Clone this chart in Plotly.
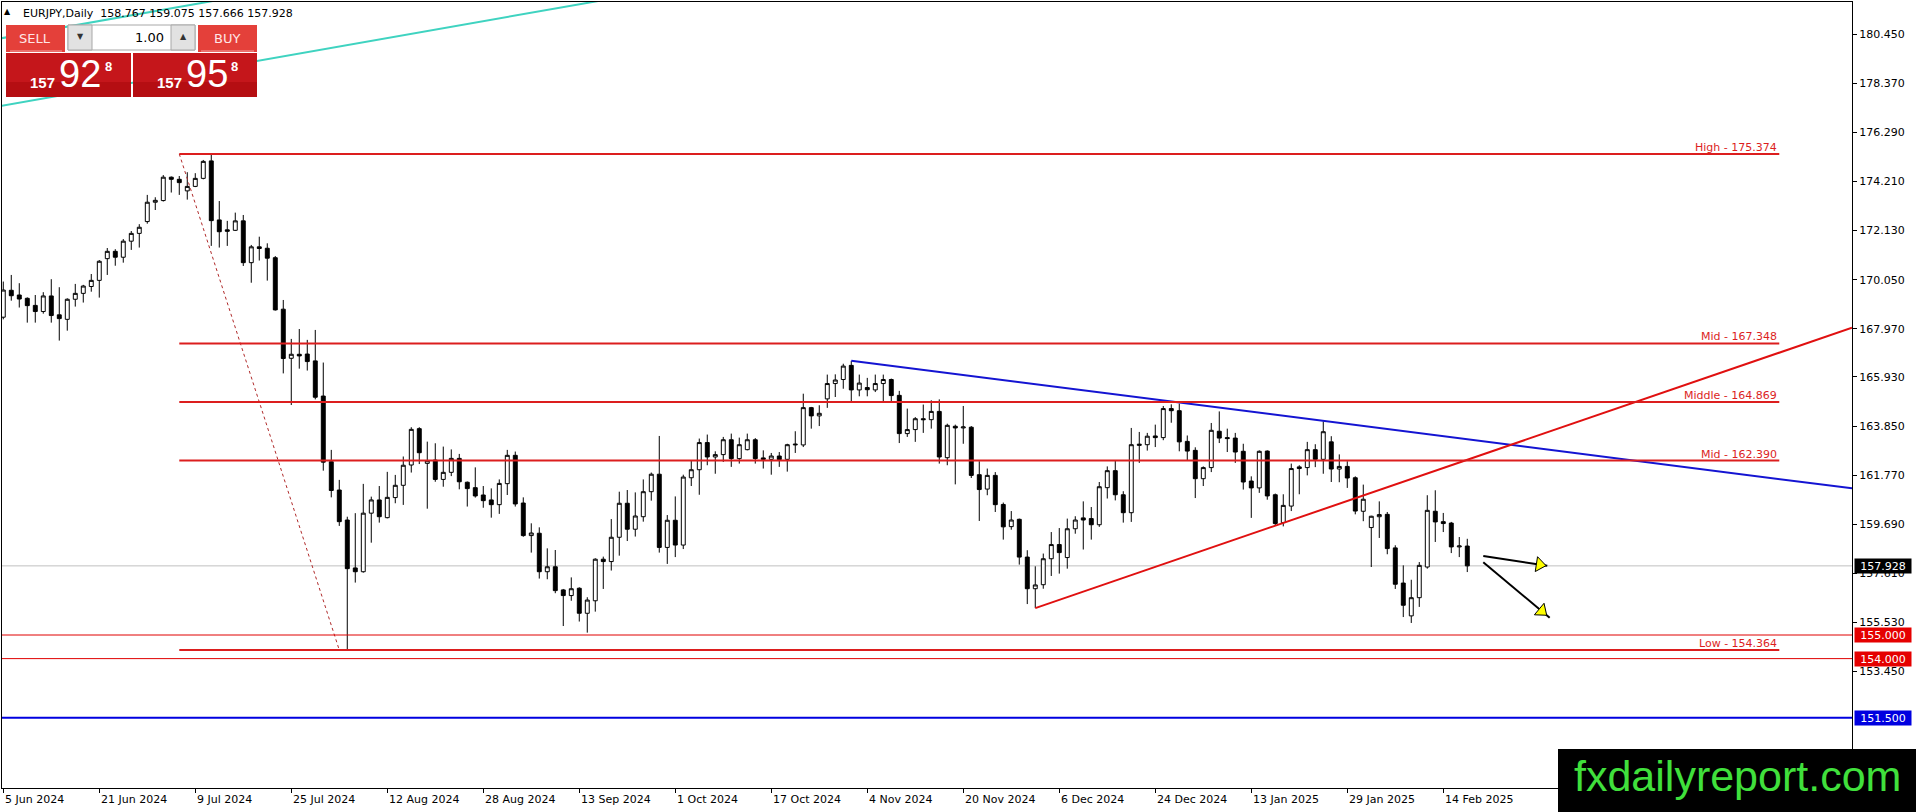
import math
import plotly.graph_objects as go

# EURJPY daily, 5 Jun 2024 .. 19 Feb 2025 (broker has no bars on 25 Dec and 1 Jan)
opens = [168.46, 169.60, 169.40, 169.26, 168.96, 168.70, 169.36, 168.56, 168.37, 169.22,
         169.47, 169.76, 170.02, 170.94, 171.25, 171.00, 171.68, 172.01, 172.51, 173.33,
         173.40, 174.39, 174.30, 173.81, 174.00, 174.34, 175.08, 172.58, 172.16, 172.14,
         172.54, 170.77, 171.44, 171.38, 170.98, 168.80, 166.72, 166.89, 166.90, 166.61,
         165.12, 162.34, 161.14, 159.87, 157.84, 157.68, 160.16, 160.72, 159.97, 160.82,
         161.34, 162.20, 163.74, 162.27, 162.41, 161.59, 161.89, 162.48, 161.47, 161.24,
         160.93, 160.72, 160.52, 161.41, 162.61, 160.59, 159.21, 159.31, 157.68, 157.89,
         156.91, 156.67, 156.98, 155.92, 156.45, 158.21, 158.11, 159.14, 160.58, 159.48,
         160.01, 161.07, 161.81, 158.71, 159.86, 158.81, 161.66, 162.00, 163.15, 162.54,
         162.64, 163.27, 162.47, 162.85, 163.27, 162.50, 162.44, 162.58, 162.44, 163.05,
         163.05, 164.63, 164.28, 165.00, 165.65, 165.82, 166.42, 165.38, 165.48, 165.38,
         165.65, 165.82, 165.15, 163.53, 163.70, 164.16, 164.12, 164.47, 162.51, 163.84,
         163.77, 163.80, 161.79, 161.18, 161.76, 160.53, 159.59, 159.90, 158.30, 156.96,
         157.13, 158.23, 158.83, 158.28, 159.50, 159.96, 159.93, 159.67, 161.24, 161.96,
         160.94, 160.18, 163.03, 163.06, 163.43, 163.36, 164.59, 164.50, 163.20, 162.82,
         161.62, 162.09, 163.63, 163.36, 163.34, 162.78, 161.52, 161.23, 162.79, 160.94,
         159.76, 160.46, 162.12, 162.09, 162.85, 162.44, 163.18, 162.03, 162.14, 161.66,
         160.24, 159.55, 160.01, 160.11, 158.69, 157.20, 155.81, 156.58, 157.88, 160.24,
         159.80, 159.74, 158.73, 158.767]
highs = [169.97, 170.25, 169.90, 169.30, 169.40, 169.52, 170.07, 169.73, 169.26, 169.87,
         169.83, 170.29, 170.88, 171.39, 171.34, 171.77, 172.11, 172.40, 173.64, 173.54,
         174.48, 174.42, 174.44, 174.60, 174.56, 175.12, 175.37, 173.38, 172.54, 172.89,
         172.79, 171.52, 171.87, 171.59, 171.05, 169.19, 167.54, 167.96, 167.50, 167.92,
         166.54, 162.84, 161.57, 160.01, 160.16, 161.40, 160.86, 161.31, 161.91, 161.78,
         162.56, 163.80, 163.80, 163.19, 163.12, 162.98, 162.86, 162.67, 161.50, 162.10,
         161.31, 161.21, 161.59, 162.84, 162.77, 160.83, 159.73, 159.56, 158.67, 158.60,
         156.95, 157.44, 157.02, 156.60, 158.25, 158.32, 159.91, 161.07, 161.14, 161.04,
         161.59, 161.88, 163.43, 160.08, 160.87, 161.79, 162.37, 163.32, 163.49, 162.78,
         163.39, 163.53, 163.36, 163.53, 163.34, 162.82, 162.71, 162.75, 163.10, 163.63,
         165.22, 164.66, 164.73, 166.03, 166.04, 166.49, 166.61, 166.03, 165.89, 166.03,
         166.03, 165.86, 165.34, 164.59, 164.23, 164.76, 164.94, 164.98, 163.95, 163.91,
         164.70, 163.85, 162.36, 162.05, 161.90, 160.61, 160.25, 159.93, 158.59, 157.91,
         158.45, 159.36, 159.53, 159.93, 160.03, 160.66, 160.42, 161.48, 162.14, 162.40,
         161.09, 163.77, 163.60, 163.56, 163.91, 164.70, 164.77, 164.80, 163.45, 162.95,
         162.14, 163.98, 164.47, 163.74, 163.56, 163.10, 161.72, 162.82, 162.82, 160.99,
         160.96, 162.26, 162.19, 163.18, 163.08, 164.05, 163.42, 162.65, 162.36, 161.72,
         161.37, 160.05, 160.66, 160.21, 158.80, 157.95, 157.34, 158.09, 160.92, 161.13,
         160.17, 159.79, 159.15, 159.075]
lows = [168.37, 169.16, 168.87, 168.23, 168.23, 168.61, 168.23, 167.47, 167.89, 168.91,
        169.08, 169.54, 169.29, 170.25, 170.64, 170.77, 171.31, 171.41, 172.42, 173.00,
        173.36, 173.74, 173.64, 173.44, 173.97, 174.30, 171.48, 171.41, 171.48, 172.11,
        170.63, 169.92, 170.86, 170.01, 168.74, 166.08, 164.74, 166.28, 166.20, 164.98,
        161.96, 160.83, 159.62, 154.37, 157.22, 157.64, 158.91, 159.76, 159.94, 160.58,
        160.51, 161.88, 162.24, 160.35, 161.49, 161.28, 161.73, 161.17, 160.44, 160.82,
        160.39, 159.97, 160.13, 160.93, 160.44, 159.16, 158.49, 157.39, 157.36, 156.77,
        155.38, 156.45, 155.57, 155.10, 155.99, 156.95, 157.73, 158.36, 158.98, 159.17,
        159.80, 160.69, 158.49, 158.01, 158.30, 158.64, 161.31, 160.94, 162.19, 161.83,
        162.33, 162.12, 162.26, 162.82, 162.26, 162.05, 161.79, 162.12, 161.92, 162.71,
        162.96, 163.74, 163.85, 164.62, 165.08, 165.43, 164.90, 165.11, 165.11, 165.29,
        164.90, 164.90, 163.13, 163.39, 163.18, 163.56, 163.74, 162.26, 162.19, 161.38,
        163.10, 161.65, 159.83, 160.92, 160.21, 159.04, 159.46, 157.98, 156.31, 156.14,
        156.96, 157.50, 157.60, 157.81, 159.29, 158.62, 159.04, 159.58, 160.78, 160.70,
        159.76, 159.79, 162.29, 162.81, 162.96, 163.25, 163.99, 162.78, 162.40, 160.80,
        161.31, 161.90, 163.13, 162.75, 162.29, 161.16, 159.96, 161.02, 160.73, 159.65,
        159.60, 160.25, 160.96, 161.76, 162.11, 161.83, 161.48, 161.47, 161.23, 160.11,
        159.82, 157.88, 159.11, 158.42, 156.95, 155.76, 155.51, 156.19, 157.81, 158.94,
        159.36, 158.47, 158.30, 157.666]
closes = [169.61, 169.37, 169.23, 168.95, 168.70, 169.36, 168.53, 168.40, 169.22, 169.47,
          169.78, 170.02, 170.83, 171.25, 171.00, 171.68, 172.01, 172.27, 173.33, 173.41,
          174.39, 174.30, 174.16, 174.00, 174.34, 175.06, 172.55, 172.08, 172.10, 172.54,
          170.77, 171.44, 171.37, 170.96, 168.77, 166.71, 166.89, 166.82, 166.58, 165.07,
          162.32, 161.12, 159.80, 157.81, 157.68, 160.16, 160.72, 160.01, 160.83, 161.34,
          162.19, 163.71, 162.72, 162.38, 161.59, 161.89, 162.48, 161.49, 161.20, 160.89,
          160.69, 160.52, 161.42, 162.61, 160.55, 159.21, 159.32, 157.68, 157.89, 156.88,
          156.67, 156.96, 155.92, 156.48, 158.21, 158.11, 159.14, 160.58, 159.48, 160.04,
          161.07, 161.81, 158.71, 159.86, 158.81, 161.69, 162.00, 163.15, 162.54, 162.64,
          163.27, 162.47, 163.06, 163.27, 162.47, 162.44, 162.58, 162.43, 163.06, 163.08,
          164.63, 164.28, 164.39, 165.65, 165.80, 166.39, 165.38, 165.67, 165.39, 165.65,
          165.82, 165.14, 163.53, 163.70, 164.16, 164.12, 164.47, 162.54, 163.88, 163.77,
          163.81, 161.76, 161.16, 161.76, 160.52, 159.58, 159.87, 158.30, 156.96, 157.12,
          158.23, 158.83, 158.49, 159.50, 159.87, 159.87, 159.67, 161.28, 161.96, 160.94,
          160.18, 163.06, 163.08, 163.42, 163.36, 164.59, 164.50, 163.18, 162.79, 161.62,
          162.09, 163.67, 163.34, 163.32, 162.75, 161.48, 161.23, 162.78, 160.89, 159.72,
          160.49, 162.05, 162.05, 162.85, 162.44, 163.61, 162.03, 162.14, 161.65, 160.25,
          160.75, 160.03, 160.10, 158.66, 157.15, 156.26, 156.58, 157.95, 160.28, 159.79,
          159.72, 158.73, 158.77, 157.928]

bars = list(range(len(closes)))

date_labels = ["5 Jun 2024", "21 Jun 2024", "9 Jul 2024", "25 Jul 2024", "12 Aug 2024",
               "28 Aug 2024", "13 Sep 2024", "1 Oct 2024", "17 Oct 2024", "4 Nov 2024",
               "20 Nov 2024", "6 Dec 2024", "24 Dec 2024", "13 Jan 2025", "29 Jan 2025",
               "14 Feb 2025"]
date_step = 12  # one time label every 12 bars

price_ticks = [180.450, 178.370, 176.290, 174.210, 172.130, 170.050, 167.970, 165.930,
               163.850, 161.770, 159.690, 157.610, 155.530, 153.450]

fib_prices = [175.374, 167.348, 164.869, 162.390, 154.364]
fib_names = ["High", "Mid", "Middle", "Mid", "Low"]
fib_bars = [22, 222]

red_hlines = [155.000, 154.000]
blue_hline = 151.500
bid = 157.928
quote = ["158.767", "159.075", "157.666", "157.928"]

# drawn objects, as (bars, prices)
blue_trend = ([106, 146], [166.62, 164.89])
red_trend = ([129, 170], [156.14, 160.91])
teal_low = ([-1, 75], [177.37, 181.89])
teal_high = ([-1, 30], [180.23, 182.08])
fib_diag = ([22, 42], [175.374, 154.364])
arrow_flat = ([185, 193], [158.35, 157.93])
arrow_down = ([185, 193.3], [158.08, 155.73])

# page geometry
W, H = 1916, 812
ML, MR, MT, MB = 2, 64, 2, 24
PW, PH = W - ML - MR, H - MT - MB
x_range = [-0.16, 231.09]
y_range = [148.52, 181.81]

FONT = "DejaVu Sans"
RED = "#dc1e1e"


def px(x):
    return (x - ML) / PW


def py(y):
    return 1 - (y - MT) / PH


def ray(anchor):
    (b0, b1), (p0, p1) = anchor
    k = (p1 - p0) / (b1 - b0)
    return [b0, x_range[1]], [p0, p0 + k * (x_range[1] - b0)]


fig = go.Figure()

fig.add_trace(go.Candlestick(
    x=bars, open=opens, high=highs, low=lows, close=closes,
    increasing=dict(fillcolor="white", line=dict(color="black", width=1)),
    decreasing=dict(fillcolor="black", line=dict(color="black", width=1)),
    whiskerwidth=0, hoverinfo="skip", showlegend=False))

line_objs = [
    (teal_low, "#3fd3c0", 2, "solid"),
    (teal_high, "#3fd3c0", 2, "solid"),
    (fib_diag, "#b02a2a", 1, "dot"),
    (ray(blue_trend), "#1414d2", 2, "solid"),
    (ray(red_trend), "#e01010", 2, "solid"),
    (arrow_flat, "black", 2, "solid"),
    (arrow_down, "black", 2, "solid"),
]
for (xs, ys), col, wd, dash in line_objs:
    fig.add_trace(go.Scatter(x=xs, y=ys, mode="lines", hoverinfo="skip", showlegend=False,
                             line=dict(color=col, width=wd, dash=dash)))

# yellow arrow heads
sx = PW / (x_range[1] - x_range[0])
sy = PH / (y_range[1] - y_range[0])
for (b, p) in (arrow_flat, arrow_down):
    ang = math.degrees(math.atan2((b[1] - b[0]) * sx, (p[1] - p[0]) * sy))
    t = 0.88
    fig.add_trace(go.Scatter(
        x=[b[0] + t * (b[1] - b[0])], y=[p[0] + t * (p[1] - p[0])], mode="markers",
        hoverinfo="skip", showlegend=False,
        marker=dict(symbol="triangle-up", size=13, angle=ang, color="#ffff00",
                    line=dict(color="black", width=1))))

shapes = []
annos = []

# bid line
shapes.append(dict(type="line", xref="paper", yref="y", x0=0, x1=1, y0=bid, y1=bid,
                   line=dict(color="#c0c0c0", width=1), layer="below"))
for lv in red_hlines:
    shapes.append(dict(type="line", xref="paper", yref="y", x0=0, x1=1, y0=lv, y1=lv,
                       line=dict(color="#e00000", width=1), layer="above"))
shapes.append(dict(type="line", xref="paper", yref="y", x0=0, x1=1, y0=blue_hline,
                   y1=blue_hline, line=dict(color="#0000e0", width=2), layer="above"))

for lv, nm in zip(fib_prices, fib_names):
    shapes.append(dict(type="line", xref="x", yref="y", x0=fib_bars[0], x1=fib_bars[1],
                       y0=lv, y1=lv, line=dict(color=RED, width=2), layer="above"))
    annos.append(dict(x=fib_bars[1], y=lv, xref="x", yref="y", xanchor="right",
                      yanchor="bottom", yshift=-2, showarrow=False,
                      text=f"{nm} - {lv:.3f}", font=dict(family=FONT, size=11, color=RED)))

# price boxes on the right scale
for lv, bg in [(bid, "black"), (red_hlines[0], "#e50000"), (red_hlines[1], "#e50000"),
               (blue_hline, "#0000e0")]:
    annos.append(dict(x=1, y=lv, xref="paper", yref="y", xanchor="left", yanchor="middle",
                      xshift=2, showarrow=False, text=f"{lv:.3f}", bgcolor=bg, width=56,
                      height=14, borderpad=0, font=dict(family=FONT, size=11, color="white")))

# time labels, left aligned to their tick like MT4
for k, lab in enumerate(date_labels):
    annos.append(dict(x=k * date_step, y=0, xref="x", yref="paper", xanchor="left",
                      yanchor="top", xshift=0, yshift=-3, showarrow=False, text=lab,
                      font=dict(family=FONT, size=11, color="black")))


def rect(x0, y0, x1, y1, fill, edge=None):
    shapes.append(dict(type="rect", xref="paper", yref="paper", x0=px(x0), x1=px(x1),
                       y0=py(y1), y1=py(y0), fillcolor=fill, layer="above",
                       line=dict(width=1 if edge else 0, color=edge or fill)))


def label(x, y, text, size, color, anchor="center", family=FONT, bold=False):
    if bold:
        text = f"<b>{text}</b>"
    annos.append(dict(x=px(x), y=py(y), xref="paper", yref="paper", xanchor=anchor,
                      yanchor="middle", showarrow=False, text=text,
                      font=dict(family=family, size=size, color=color)))


# header
label(7, 12, "▲", 8, "black")
label(21, 13, "EURJPY,Daily  " + " ".join(quote), 11, "black", anchor="left")

# one click trading panel
rect(6, 25, 65, 52, "#e4403a")
rect(198, 25, 257, 52, "#e4403a")
rect(68, 25, 195, 50, "white", "#a8a8a8")
rect(68, 25, 92, 50, "#e2e2e2", "#a8a8a8")
rect(171, 25, 195, 50, "#e2e2e2", "#a8a8a8")
rect(6, 53, 131, 97, "#c5161b")
rect(133, 53, 257, 97, "#c5161b")
rect(6, 82, 131, 97, "#b50e12")
rect(133, 82, 257, 97, "#b50e12")
shapes.append(dict(type="line", xref="paper", yref="paper", x0=px(10), x1=px(62),
                   y0=py(51), y1=py(51), line=dict(color="#f3a0a0", width=1), layer="above"))
shapes.append(dict(type="line", xref="paper", yref="paper", x0=px(201), x1=px(254),
                   y0=py(51), y1=py(51), line=dict(color="#f3a0a0", width=1), layer="above"))
label(35, 39, "SELL", 13, "#ffe6e6")
label(227, 39, "BUY", 13, "#ffe6e6")
label(80, 37, "▼", 8, "#333333")
label(183, 37, "▲", 8, "#333333")
label(166, 38, "1.00", 13, "black", anchor="right")
sell_px = quote[3]
buy_px = "157.958"
for cx, txt in [(0, sell_px), (127, buy_px)]:
    label(42 + cx, 82, txt[:3], 15, "white", bold=True, family="Liberation Sans")
    label(80 + cx, 74, txt[4:6], 38, "white", family="Liberation Sans")
    label(108 + cx, 66, txt[6], 13, "white", bold=True, family="Liberation Sans")

# watermark
rect(1558, 749, 1916, 812, "black")
label(1737, 776, "fxdailyreport.com", 43, "#40e03c", family="Liberation Sans")

fig.update_layout(
    width=W, height=H, margin=dict(l=ML, r=MR, t=MT, b=MB),
    paper_bgcolor="white", plot_bgcolor="white", showlegend=False,
    shapes=shapes, annotations=annos,
    xaxis=dict(range=x_range, rangeslider=dict(visible=False), showgrid=False,
               zeroline=False, showline=True, linecolor="black", linewidth=1, mirror=True,
               ticks="outside", ticklen=4, tickcolor="black",
               tickvals=[k * date_step for k in range(len(date_labels))],
               showticklabels=False),
    yaxis=dict(range=y_range, side="right", showgrid=False, zeroline=False,
               showline=True, linecolor="black", linewidth=1, mirror=True,
               ticks="outside", ticklen=4, tickcolor="black",
               tickvals=price_ticks, ticktext=[f"{v:.3f}" for v in price_ticks],
               tickfont=dict(family=FONT, size=11, color="black")),
)

# the page body has a default 8px margin; drop it so the figure fills the window
fig.write_html("out.html", config={"displayModeBar": False},
               post_script="document.body.style.margin='0';")
